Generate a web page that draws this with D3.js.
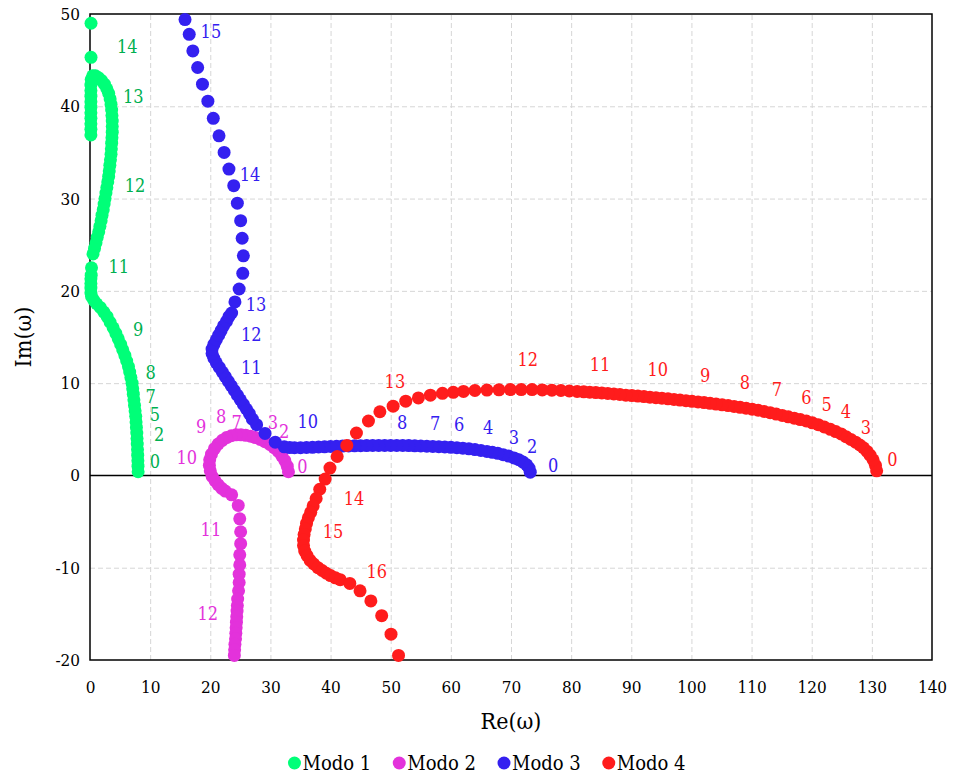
<!DOCTYPE html>
<html>
<head>
<meta charset="utf-8">
<script src="https://cdn.jsdelivr.net/npm/d3@7"></script>
<style>
  body { margin: 0; background: #fff; }
  text { font-family: "DejaVu Serif Condensed", "DejaVu Serif", serif; font-stretch: condensed; }
</style>
</head>
<body>
<svg id="chart" width="958" height="780"></svg>
<script>
// ejes
const xTicks = [0, 10, 20, 30, 40, 50, 60, 70, 80, 90, 100, 110, 120, 130, 140];
const yTicks = [-20, -10, 0, 10, 20, 30, 40, 50];
const seriesNames = ["Modo 1", "Modo 2", "Modo 3", "Modo 4"];

// Modo 1 [Re, Im]
const modo1 = [
  [8.0,0.4],[7.98,1.0],[7.96,1.6],[7.93,2.2],[7.9,2.8],[7.86,3.4],[7.82,4.0],[7.78,4.6],[7.72,5.2],[7.66,5.8],
  [7.6,6.4],[7.5,7.0],[7.4,7.6],[7.3,8.2],[7.2,8.8],[7.1,9.4],[7.0,10.0],[6.8,10.6],[6.6,11.2],[6.4,11.8],
  [6.1,12.4],[5.8,13.0],[5.45,13.6],[5.1,14.2],[4.7,14.8],[4.3,15.4],[3.85,16.0],[3.35,16.6],[2.85,17.2],[2.3,17.7],
  [1.7,18.2],[1.1,18.6],[0.6,19.0],[0.25,19.4],[0.15,19.8],[0.15,20.3],[0.15,20.8],[0.15,21.3],[0.2,21.7],[0.25,22.5],
  [0.5,24.0],[0.75,24.6],[1.0,25.2],[1.2,25.8],[1.45,26.4],[1.65,27.0],[1.85,27.6],[2.0,28.2],[2.2,28.8],[2.35,29.4],
  [2.5,30.0],[2.65,30.6],[2.8,31.2],[2.95,31.8],[3.1,32.4],[3.2,33.0],[3.3,33.6],[3.4,34.2],[3.5,34.8],[3.55,35.4],
  [3.6,36.0],[3.65,36.6],[3.7,37.2],[3.7,37.8],[3.7,38.4],[3.65,39.0],[3.6,39.6],[3.5,40.2],[3.35,40.8],[3.1,41.4],
  [2.8,41.9],[2.4,42.4],[1.9,42.8],[1.4,43.1],[0.9,43.3],[0.45,43.3],[0.2,42.9],[0.15,42.3],[0.15,41.7],[0.15,41.1],
  [0.15,40.5],[0.15,39.9],[0.15,39.3],[0.15,38.7],[0.15,38.1],[0.15,37.5],[0.15,36.9],[0.17,45.3],[0.17,49.0]
];

// Modo 2
const modo2 = [
  [33.0,0.4],[32.8,1.0],[32.4,1.6],[31.9,2.1],[31.3,2.6],[30.6,3.0],[29.9,3.35],[29.1,3.65],[28.3,3.9],[27.5,4.1],
  [26.7,4.25],[25.9,4.35],[25.1,4.4],[24.3,4.4],[23.5,4.3],[22.7,4.1],[22.0,3.8],[21.3,3.4],[20.7,2.9],[20.2,2.3],
  [19.9,1.7],[19.85,1.1],[20.0,0.5],[20.3,-0.1],[20.8,-0.6],[21.3,-1.0],[21.9,-1.4],[22.5,-1.7],[23.55,-2.1],[24.65,-3.25],
  [24.9,-4.7],[25.05,-6.1],[25.05,-7.4],[24.9,-8.6],[24.9,-9.7],[24.8,-10.7],[24.8,-11.6],[24.7,-12.5],[24.55,-13.4],[24.5,-14.1],
  [24.45,-14.7],[24.4,-15.3],[24.35,-15.9],[24.3,-16.5],[24.25,-17.1],[24.2,-17.7],[24.1,-18.3],[24.05,-18.9],[24.0,-19.5]
];

// Modo 3
const modo3 = [
  [73.2,0.35],[73.0,0.8],[72.6,1.15],[72.0,1.45],[71.3,1.7],[70.5,1.9],[69.6,2.1],[68.7,2.25],[67.8,2.4],[66.9,2.5],
  [66.0,2.6],[65.0,2.7],[64.0,2.8],[63.0,2.88],[62.0,2.95],[61.0,3.0],[60.0,3.05],[59.0,3.08],[58.0,3.11],[57.0,3.14],
  [56.0,3.17],[55.0,3.19],[54.0,3.21],[53.0,3.23],[52.0,3.24],[51.0,3.25],[50.0,3.25],[49.0,3.25],[48.0,3.25],[47.0,3.24],
  [46.0,3.23],[45.0,3.22],[44.0,3.21],[43.0,3.2],[42.0,3.18],[41.0,3.16],[40.0,3.14],[39.0,3.1],[38.0,3.08],[37.0,3.05],
  [36.0,3.03],[35.0,3.0],[34.0,3.0],[33.2,3.02],[32.3,3.1],[30.8,3.6],[29.1,4.55],[27.7,5.5],[27.0,6.1],[26.5,6.7],
  [26.0,7.2],[25.5,7.7],[25.0,8.2],[24.5,8.7],[24.0,9.2],[23.5,9.7],[23.0,10.2],[22.5,10.7],[22.0,11.2],[21.5,11.7],
  [21.0,12.2],[20.6,12.7],[20.3,13.2],[20.3,13.7],[20.6,14.2],[21.0,14.7],[21.4,15.2],[21.8,15.7],[22.2,16.2],[22.7,16.7],
  [23.1,17.2],[23.55,17.6],[24.1,18.8],[24.8,20.2],[25.4,21.9],[25.5,23.8],[25.3,25.7],[25.05,27.6],[24.5,29.5],[23.9,31.4],
  [23.1,33.2],[22.3,35.0],[21.45,36.8],[20.5,38.7],[19.6,40.55],[18.7,42.4],[17.9,44.2],[17.1,46.0],[16.5,47.8],[15.8,49.4]
];

// Modo 4
const modo4 = [
  [130.8,0.5],[130.6,1.1],[130.2,1.7],[129.7,2.2],[129.2,2.6],[128.6,3.0],[128.0,3.3],[127.3,3.6],[126.5,3.9],[125.7,4.2],
  [124.9,4.5],[124.0,4.75],[123.1,5.0],[122.1,5.25],[121.1,5.5],[120.1,5.7],[119.1,5.9],[118.1,6.05],[117.1,6.2],[116.1,6.35],
  [115.1,6.5],[114.1,6.65],[113.1,6.8],[112.1,6.93],[111.1,7.06],[110.1,7.18],[109.1,7.28],[108.1,7.38],[107.1,7.48],[106.1,7.57],
  [105.1,7.65],[104.1,7.73],[103.1,7.81],[102.1,7.89],[101.1,7.96],[100.1,8.03],[99.1,8.1],[98.1,8.17],[97.1,8.24],[96.1,8.3],
  [95.1,8.36],[94.1,8.42],[93.1,8.48],[92.1,8.54],[91.1,8.6],[90.1,8.65],[89.1,8.7],[88.1,8.77],[87.1,8.83],[86.1,8.89],
  [85.1,8.94],[84.1,8.98],[83.1,9.02],[82.1,9.06],[81.0,9.1],[79.7,9.15],[78.3,9.2],[76.8,9.24],[75.2,9.27],[73.5,9.3],
  [71.7,9.3],[69.9,9.3],[68.0,9.28],[66.0,9.25],[64.0,9.2],[62.1,9.1],[60.4,9.0],[58.6,8.9],[56.6,8.7],[54.6,8.4],
  [52.5,8.05],[50.4,7.5],[48.2,6.9],[46.3,5.9],[44.3,4.6],[42.7,3.25],[41.1,2.05],[39.9,0.8],[39.1,-0.4],[38.2,-1.5],
  [37.6,-2.5],[37.1,-3.3],[36.7,-4.0],[36.3,-4.6],[36.0,-5.2],[35.8,-5.8],[35.6,-6.4],[35.5,-7.0],[35.5,-7.6],[35.7,-8.2],
  [36.1,-8.7],[36.6,-9.2],[37.2,-9.6],[37.9,-10.0],[38.6,-10.3],[39.3,-10.6],[40.0,-10.85],[40.8,-11.1],[41.6,-11.3],[43.2,-11.7],
  [44.9,-12.5],[46.7,-13.6],[48.5,-15.2],[50.05,-17.2],[51.3,-19.5]
];

// etiquetas [texto, Re, Im]
const labels1 = [["0",10.8,1.5],["2",11.5,4.4],["5",10.8,6.6],["7",10.1,8.6],["8",10.1,11.2],["9",8.0,15.8],
  ["11",4.8,22.6],["12",7.5,31.4],["13",7.2,41.1],["14",6.2,46.5]];
const labels2 = [["0",35.3,1.0],["2",32.3,4.8],["3",30.4,5.7],["7",24.4,5.7],["8",21.8,6.4],["9",18.5,5.3],
  ["10",16.1,1.95],["11",20.1,-5.85],["12",19.6,-14.95]];
const labels3 = [["15",20.1,48.1],["14",26.6,32.6],["13",27.6,18.5],["12",26.8,15.3],["11",26.8,11.7],["10",36.2,5.85],
  ["8",51.9,5.75],["7",57.4,5.6],["6",61.4,5.5],["4",66.2,5.2],["3",70.5,4.1],["2",73.5,3.1],["0",77.0,1.1]];
const labels4 = [["0",133.4,1.7],["3",129.0,5.2],["4",125.7,6.9],["5",122.5,7.7],["6",119.1,8.45],["7",114.2,9.3],
  ["8",108.9,10.1],["9",102.3,10.8],["10",94.4,11.5],["11",84.8,12.0],["12",72.8,12.6],["13",50.7,10.2],
  ["14",43.9,-2.5],["15",40.4,-6.1],["16",47.7,-10.4]];

const series = [
  { name: seriesNames[0], data: modo1, labels: labels1, color: "#00ff78", labelColor: "#00b050" },
  { name: seriesNames[1], data: modo2, labels: labels2, color: "#e332db", labelColor: "#e332db" },
  { name: seriesNames[2], data: modo3, labels: labels3, color: "#3420f0", labelColor: "#3420f0" },
  { name: seriesNames[3], data: modo4, labels: labels4, color: "#ff1c1c", labelColor: "#ff1c1c" }
];

const width = 958, height = 780;
const margin = { top: 14, right: 26, bottom: 120, left: 90 };
const svg = d3.select("#chart");

const x = d3.scaleLinear().domain([0, 140]).range([margin.left, width - margin.right]);
const y = d3.scaleLinear().domain([-20, 50]).range([height - margin.bottom, margin.top]);

// rejilla punteada
svg.append("g")
  .attr("transform", `translate(0,${height - margin.bottom})`)
  .call(d3.axisBottom(x).tickValues(xTicks.slice(1, -1)).tickSize(-(y.range()[0] - y.range()[1])).tickFormat(""))
  .call(g => g.select(".domain").remove())
  .call(g => g.selectAll("line").attr("stroke", "#d6d6d6").attr("stroke-dasharray", "5,3"));

svg.append("g")
  .attr("transform", `translate(${margin.left},0)`)
  .call(d3.axisLeft(y).tickValues(yTicks.filter(v => v !== 0 && v !== -20 && v !== 50)).tickSize(-(x.range()[1] - x.range()[0])).tickFormat(""))
  .call(g => g.select(".domain").remove())
  .call(g => g.selectAll("line").attr("stroke", "#d6d6d6").attr("stroke-dasharray", "5,3"));

// marco y linea cero
svg.append("rect")
  .attr("x", x(0)).attr("y", y(50))
  .attr("width", x(140) - x(0)).attr("height", y(-20) - y(50))
  .attr("fill", "none").attr("stroke", "#000").attr("stroke-width", 1.5);

svg.append("line")
  .attr("x1", x(0)).attr("x2", x(140))
  .attr("y1", y(0)).attr("y2", y(0))
  .attr("stroke", "#000").attr("stroke-width", 1.5);

// etiquetas de ejes (guion normal para negativos)
svg.append("g")
  .attr("transform", `translate(0,${height - margin.bottom})`)
  .call(d3.axisBottom(x).tickValues(xTicks).tickSize(0).tickPadding(21).tickFormat(d => String(d)))
  .call(g => g.select(".domain").remove())
  .call(g => g.selectAll("text").attr("font-family", null).attr("font-size", 17).attr("fill", "#000"));

svg.append("g")
  .attr("transform", `translate(${margin.left},0)`)
  .call(d3.axisLeft(y).tickValues(yTicks).tickSize(0).tickPadding(10).tickFormat(d => String(d)))
  .call(g => g.select(".domain").remove())
  .call(g => g.selectAll("text").attr("font-family", null).attr("font-size", 17).attr("fill", "#000"));

svg.append("text")
  .attr("x", (x(0) + x(140)) / 2).attr("y", 729)
  .attr("text-anchor", "middle").attr("font-size", 23)
  .text("Re(ω)");

svg.append("text")
  .attr("transform", `translate(31,${(y(50) + y(-20)) / 2}) rotate(-90)`)
  .attr("text-anchor", "middle").attr("font-size", 23)
  .text("Im(ω)");

// puntos
series.forEach(s => {
  svg.append("g")
    .selectAll("circle")
    .data(s.data)
    .join("circle")
    .attr("cx", d => x(d[0]))
    .attr("cy", d => y(d[1]))
    .attr("r", 6.5)
    .attr("fill", s.color);
});

// etiquetas de parametro
series.forEach(s => {
  svg.append("g")
    .selectAll("text")
    .data(s.labels)
    .join("text")
    .attr("x", d => x(d[1]))
    .attr("y", d => y(d[2]))
    .attr("text-anchor", "middle")
    .attr("dominant-baseline", "central")
    .attr("font-size", 18)
    .attr("fill", s.labelColor)
    .text(d => d[0]);
});

// leyenda
const legend = svg.append("g").attr("transform", "translate(0,763)");
let lx = 0;
const items = [];
series.forEach(s => {
  const g = legend.append("g");
  g.append("circle").attr("cx", 6).attr("cy", 0).attr("r", 6.5).attr("fill", s.color);
  const t = g.append("text").attr("x", 14).attr("y", 0)
    .attr("dominant-baseline", "central").attr("font-size", 20).text(s.name);
  const w = 14 + t.node().getComputedTextLength();
  items.push({ g, lx, w });
  lx += w + 22;
});
const totalW = lx - 22;
const startX = 487 - totalW / 2;
items.forEach(it => it.g.attr("transform", `translate(${startX + it.lx},0)`));
</script>
</body>
</html>
